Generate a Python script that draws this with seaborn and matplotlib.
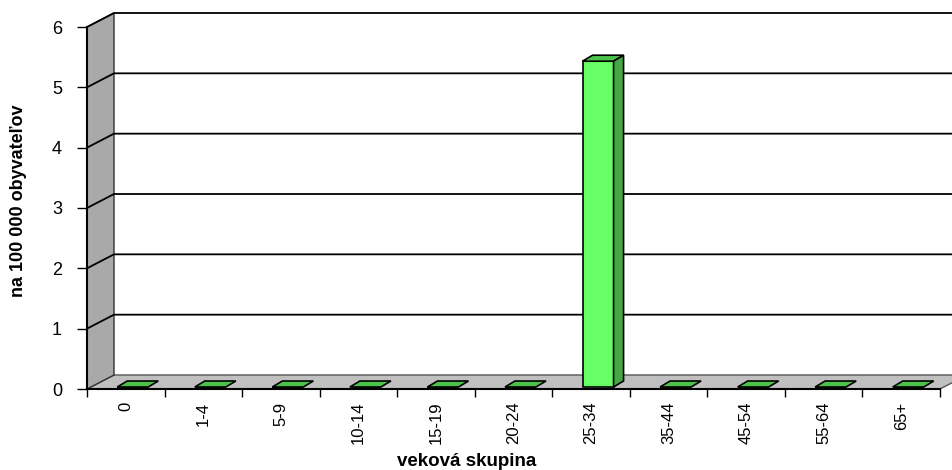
import numpy as np
import pandas as pd
import seaborn as sns
import matplotlib.pyplot as plt
import matplotlib.transforms as mtransforms
from matplotlib.patches import Polygon

# data z grafu
vekove_skupiny = ["0", "1-4", "5-9", "10-14", "15-19", "20-24",
                  "25-34", "35-44", "45-54", "55-64", "65+"]
hodnoty = [0, 0, 0, 0, 0, 0, 5.4, 0, 0, 0, 0]
y_ticky = [0, 1, 2, 3, 4, 5, 6]

df = pd.DataFrame({"skupina": vekove_skupiny, "hodnota": hodnoty})

sns.set_theme(style="white")
plt.rcParams["font.family"] = ["Liberation Sans", "DejaVu Sans"]

W, H = 953, 470
fig = plt.figure(figsize=(W / 100, H / 100), dpi=100)
fig.patch.set_facecolor("white")
ax = fig.add_axes([87 / W, (H - 389) / H, 853 / W, (389 - 27) / H])
ax.set_facecolor("none")

sns.barplot(data=df, x="skupina", y="hodnota", ax=ax, width=0.4,
            color="#66ff66", edgecolor="black", linewidth=1.2, saturation=1,
            zorder=5)

ax.set_xlim(-0.5, len(vekove_skupiny) - 0.5)
ax.set_ylim(0, 6)
ax.set_autoscale_on(False)

# 3D efekt - posun do hlbky (v pixeloch)
HLBKA = np.array([27.0, 14.0])
POSUN_STLPCA = np.array([7.0, 2.0])
HLBKA_STLPCA = np.array([10.0, 6.0])
ident = mtransforms.IdentityTransform()


def px(x, y, h=0.0):
    return ax.transData.transform((x, y)) + h * HLBKA


x_min, x_max = -0.5, len(vekove_skupiny) - 0.5

# podlaha
podlaha = [px(x_min, 0), px(x_max, 0), px(x_max, 0, 1), px(x_min, 0, 1)]
ax.add_patch(Polygon(podlaha, closed=True, facecolor="#c0c0c0",
                     edgecolor="#555555", linewidth=1, transform=ident,
                     clip_on=False, zorder=1))
# bocna stena
stena = [px(x_min, 0), px(x_min, 6), px(x_min, 6, 1), px(x_min, 0, 1)]
ax.add_patch(Polygon(stena, closed=True, facecolor="#a9a9a9",
                     edgecolor="#333333", linewidth=1, transform=ident,
                     clip_on=False, zorder=1))

# mriezka na zadnej stene
for t in y_ticky[1:]:
    a, b, c = px(x_min, t), px(x_min, t, 1), px(x_max, t, 1)
    ax.plot([a[0], b[0], c[0]], [a[1], b[1], c[1]], color="black",
            linewidth=1.3, transform=ident, clip_on=False, zorder=2)

# stlpce - predna stena z seabornu, vrch a bok dopocitane
for p in list(ax.patches):
    if not hasattr(p, "get_height") or p.get_width() > 1:
        continue
    x0, w, h = p.get_x(), p.get_width(), p.get_height()
    if w <= 0:
        continue
    p.set_transform(ax.transData + mtransforms.ScaledTranslation(
        POSUN_STLPCA[0] / 100, POSUN_STLPCA[1] / 100, fig.dpi_scale_trans))
    p.set_clip_on(False)
    lh = px(x0, h) + POSUN_STLPCA
    ph = px(x0 + w, h) + POSUN_STLPCA
    pd0 = px(x0 + w, 0) + POSUN_STLPCA
    vrch = [lh, ph, ph + HLBKA_STLPCA, lh + HLBKA_STLPCA]
    ax.add_patch(Polygon(vrch, closed=True, facecolor="#4cc24c",
                         edgecolor="black", linewidth=1.2, transform=ident,
                         clip_on=False, zorder=6))
    if h > 0:
        bok = [pd0, ph, ph + HLBKA_STLPCA, pd0 + HLBKA_STLPCA]
        ax.add_patch(Polygon(bok, closed=True, facecolor="#44a844",
                             edgecolor="black", linewidth=1.2, transform=ident,
                             clip_on=False, zorder=6))

for s in ["top", "right"]:
    ax.spines[s].set_visible(False)
for s in ["left", "bottom"]:
    ax.spines[s].set_visible(True)
    ax.spines[s].set_color("black")
    ax.spines[s].set_linewidth(1.5)
    ax.spines[s].set_zorder(3)

ax.set_yticks(y_ticky)
ax.set_yticklabels([str(t) for t in y_ticky], fontsize=13)
ax.tick_params(axis="y", left=True, length=7, width=1, color="black",
               direction="out", pad=11, labelcolor="black")
ax.set_xticks(np.arange(-0.5, len(vekove_skupiny)), minor=True)
ax.tick_params(axis="x", which="minor", bottom=True, length=6, width=1,
               color="black", direction="out")
ax.set_xticks(range(len(vekove_skupiny)))
ax.set_xticklabels(vekove_skupiny, fontsize=12, rotation=90)
ax.tick_params(axis="x", which="major", bottom=False, length=0, pad=9,
               labelcolor="black")
ax.grid(False)

ax.set_ylabel("na 100 000 obyvateľov", fontweight="bold", fontsize=13,
              color="black")
ax.yaxis.set_label_coords(-0.07, 0.52)
ax.set_xlabel("veková skupina", fontweight="bold", fontsize=13.5, color="black")
ax.xaxis.set_label_coords(0.4455, -0.178)

fig.savefig("out.png", dpi=100)
